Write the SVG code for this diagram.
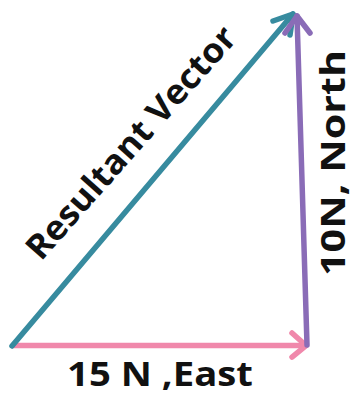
<svg xmlns="http://www.w3.org/2000/svg" width="356" height="395" viewBox="0 0 356 395">
<style>
.v{fill:none;stroke-width:5.5;stroke-linecap:round;stroke-linejoin:round}
.t{font-family:"Open Sans","Liberation Sans",sans-serif;font-weight:bold;fill:#111;font-size:34px}
</style>
<rect width="356" height="395" fill="#fff"/>
<g id="connectors">
<g id="east">
<line class="v" stroke="#f088ab" x1="13" y1="345.5" x2="306" y2="345.5"/>
<polyline class="v" stroke="#f088ab" points="292,333 306,345.5 292,357"/>
</g>
<g id="resultant">
<line class="v" stroke="#378b9f" x1="12" y1="346" x2="293" y2="14"/>
<polyline class="v" stroke="#378b9f" points="273,21 293,14 290,35"/>
</g>
<g id="north">
<line class="v" stroke="#8a6cb7" x1="307" y1="345" x2="297" y2="16"/>
<polyline class="v" stroke="#8a6cb7" points="285,33 297,16 310,33"/>
</g>
</g>
<g id="label-east"><text class="t" x="67" y="386" textLength="186" lengthAdjust="spacingAndGlyphs">15 N ,East</text></g>
<g id="label-north"><text class="t" transform="translate(345,276) rotate(-90)" textLength="226" lengthAdjust="spacingAndGlyphs">10N, North</text></g>
<g id="label-resultant"><text class="t" transform="translate(41,262) rotate(-48.5)" textLength="298" lengthAdjust="spacingAndGlyphs">Resultant Vector</text></g>
</svg>
